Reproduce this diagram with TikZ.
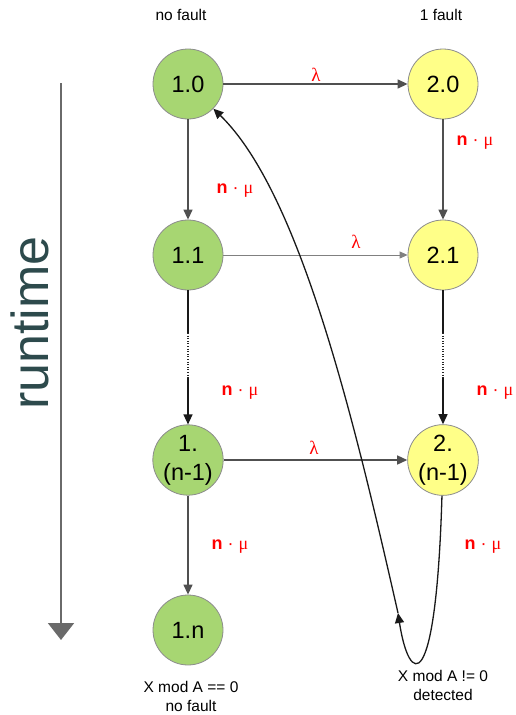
\documentclass[tikz,border=0pt]{standalone}
\usepackage{fontspec}
\setmainfont{Liberation Sans}
\newfontfamily\symf{Liberation Serif}
\usetikzlibrary{arrows.meta}
\definecolor{gfill}{HTML}{A7D672}
\definecolor{yfill}{HTML}{FFFF88}
\definecolor{cborder}{HTML}{8C8C8C}
\definecolor{cedge}{HTML}{505050}
\definecolor{clight}{HTML}{808080}
\definecolor{rtcol}{HTML}{2D4A4C}
\definecolor{rtline}{HTML}{6A6A6A}
\begin{document}
\begin{tikzpicture}[x=1pt,y=-1pt,
  state/.style={circle,minimum size=70pt,inner sep=0pt,draw=cborder,line width=0.8pt,
    font=\fontsize{23.5}{29}\selectfont,align=center},
  ok/.style={state,fill=gfill},
  bad/.style={state,fill=yfill},
  tr/.style={draw=cedge,line width=1.3pt,-{Triangle[length=10pt,width=9pt]}},
  trlight/.style={draw=clight,line width=0.8pt,-{Triangle[length=8pt,width=7pt]}},
  blk/.style={draw=black!90,line width=1.3pt},
  dots/.style={draw=black!85,line width=1.1pt,dash pattern=on 1pt off 1.6pt},
  loopline/.style={draw=black!90,line width=1.3pt,-{Triangle[length=10pt,width=9pt]}},
  rate/.style={text=red,font=\fontsize{18}{20}\selectfont},
  lam/.style={text=red,font=\symf\fontsize{19}{20}\selectfont},
  captext/.style={font=\fontsize{15.5}{19}\selectfont,align=center},
  rtarrow/.style={draw=rtline,line width=2pt,-{Triangle[length=17pt,width=26pt]}}]
\useasboundingbox (0,0) rectangle (515,715);

% headers
\node[captext] (hno) at (181,15) {no fault};
\node[captext] (hone) at (441,15) {1 fault};

% runtime axis
\node[rotate=90,anchor=base,font=\fontsize{52}{60}\selectfont,text=rtcol] (rt) at (48,323) {runtime};
\coordinate (rtop) at (61,83);
\coordinate (rbot) at (61,640);
\draw[rtarrow] (rtop) -- (rbot);

% states
\node[ok]  (n10) at (188,84)  {1.0};
\node[bad] (n20) at (443,84)  {2.0};
\node[ok]  (n11) at (188,255) {1.1};
\node[bad] (n21) at (443,255) {2.1};
\node[ok]  (n1m) at (188,460) {1.\\(n-1)};
\node[bad] (n2m) at (443,460) {2.\\(n-1)};
\node[ok]  (n1n) at (188,630) {1.n};

% transitions
\draw[tr] (n10) -- (n20);
\draw[tr] (n10) -- (n11);
\draw[tr] (n20) -- (n21);
\draw[trlight] (n11) -- (n21);
\coordinate (a1) at (188,333);
\coordinate (a2) at (188,378);
\coordinate (b1) at (443,333);
\coordinate (b2) at (443,378);
\draw[blk] (n11) -- (a1);
\draw[dots] (a1) -- (a2);
\draw[tr,draw=black!90] (a2) -- (n1m);
\draw[blk] (n21) -- (b1);
\draw[dots] (b1) -- (b2);
\draw[tr,draw=black!90] (b2) -- (n2m);
\draw[tr] (n1m) -- (n2m);
\draw[tr] (n1m) -- (n1n);

% detection loop
\coordinate (det) at (398,613);
\draw[loopline] (n2m) .. controls (436,700) and (409,685) .. (det);
\draw[loopline] (det) .. controls (354,419) and (300,193) .. (n10);

% rate labels
\node[lam] (l1) at (316,75) {λ};
\node[lam] (l2) at (356,242) {λ};
\node[lam] (l3) at (314,448) {λ};
\node[rate] (r1) at (235,191) {\textbf{n} · {\symf μ}};
\node[rate] (r2) at (475,143) {\textbf{n} · {\symf μ}};
\node[rate] (r3) at (240,393) {\textbf{n} · {\symf μ}};
\node[rate] (r4) at (495,393) {\textbf{n} · {\symf μ}};
\node[rate] (r5) at (230,547) {\textbf{n} · {\symf μ}};
\node[rate] (r6) at (483,547) {\textbf{n} · {\symf μ}};

% bottom captions
\node[captext] (cl) at (191,696) {X mod A == 0\\no fault};
\node[captext] (cr) at (443,685) {X mod A != 0\\detected};
\end{tikzpicture}
\end{document}
